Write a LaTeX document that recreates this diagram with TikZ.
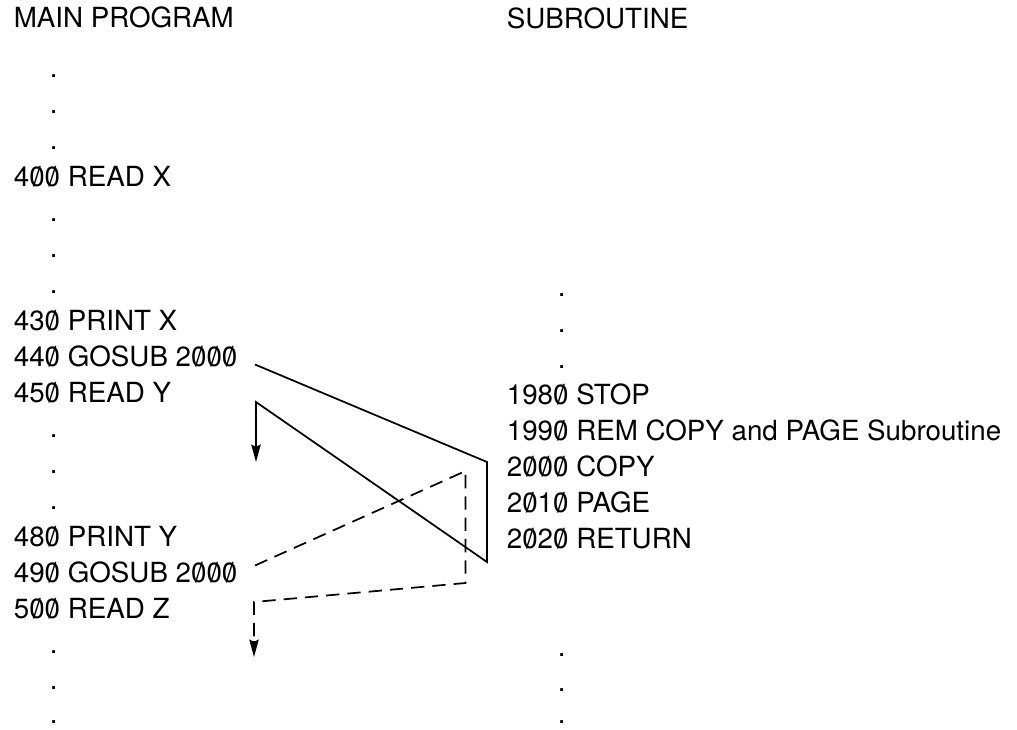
\documentclass[tikz,border=0pt]{standalone}
\usepackage{fontspec}
\setmainfont{TeX Gyre Heros}
\usetikzlibrary{arrows.meta}
\newcommand{\zro}{\ooalign{0\cr\hidewidth/\hidewidth\cr}}
\tikzset{every picture/.style={line width=1.3pt}}
\tikzset{code/.style={anchor=base west,inner sep=0.75pt,font=\fontsize{20.8}{24}\selectfont},
  jump/.style={-{Stealth[length=13pt,width=7pt,inset=1.5pt]}},
  back/.style={dash pattern=on 10pt off 6pt}}

\begin{document}
\begin{tikzpicture}[x=0.75pt,y=0.75pt,yscale=-1,xscale=1]
\useasboundingbox (0,0) rectangle (1017,729);
% Text Node
\draw (12,27) node (mainhd) [code] {MAIN PROGRAM};
% Text Node
\draw (505,28) node (subhd) [code] {SUBROUTINE};
% Text Node
\draw (48,77.5) node (ld1) [code] {.};
% Text Node
\draw (48,113.5) node (ld2) [code] {.};
% Text Node
\draw (48,149.5) node (ld3) [code] {.};
% Text Node
\draw (12,186) node (l400) [code] {4\zro\zro\ READ X};
% Text Node
\draw (48,221.5) node (ld4) [code] {.};
% Text Node
\draw (48,257.5) node (ld5) [code] {.};
% Text Node
\draw (48,293.5) node (ld6) [code] {.};
% Text Node
\draw (12,330) node (l430) [code] {43\zro\ PRINT X};
% Text Node
\draw (12,366) node (l440) [code] {44\zro\ GOSUB 2\zro\zro\zro};
% Text Node
\draw (12,402) node (l450) [code] {45\zro\ READ Y};
% Text Node
\draw (48,437.5) node (ld7) [code] {.};
% Text Node
\draw (48,473.5) node (ld8) [code] {.};
% Text Node
\draw (48,509.5) node (ld9) [code] {.};
% Text Node
\draw (12,546) node (l480) [code] {48\zro\ PRINT Y};
% Text Node
\draw (12,582) node (l490) [code] {49\zro\ GOSUB 2\zro\zro\zro};
% Text Node
\draw (12,618) node (l500) [code] {5\zro\zro\ READ Z};
% Text Node
\draw (48,653.5) node (ld10) [code] {.};
% Text Node
\draw (48,689) node (ld11) [code] {.};
% Text Node
\draw (48,723) node (ld12) [code] {.};
% Text Node
\draw (556,296.5) node (rd1) [code] {.};
% Text Node
\draw (556,332.5) node (rd2) [code] {.};
% Text Node
\draw (556,368.5) node (rd3) [code] {.};
% Text Node
\draw (505,404.5) node (r1980) [code] {198\zro\ STOP};
% Text Node
\draw (505,440.5) node (r1990) [code] {199\zro\ REM COPY and PAGE Subroutine};
% Text Node
\draw (505,476.5) node (r2000) [code] {2\zro\zro\zro\ COPY};
% Text Node
\draw (505,512.5) node (r2010) [code] {2\zro1\zro\ PAGE};
% Text Node
\draw (505,548.5) node (r2020) [code] {2\zro2\zro\ RETURN};
% Text Node
\draw (556,656.5) node (rd4) [code] {.};
% Text Node
\draw (556,691) node (rd5) [code] {.};
% Text Node
\draw (556,723) node (rd6) [code] {.};
% Corners of the jumps
\coordinate (callA) at (255,364.5);
\coordinate (inA) at (487,462);
\coordinate (outA) at (487,562);
\coordinate (retA) at (256,402);
\coordinate (tipA) at (256,462);
\coordinate (callB) at (255,565.5);
\coordinate (inB) at (465.5,471);
\coordinate (outB) at (465.5,583);
\coordinate (retB) at (254,602);
\coordinate (tipB) at (254,657);
%Straight Lines
\draw [jump] (callA) -- (inA) -- (outA) -- (retA) -- (tipA);
%Straight Lines
\draw [back] (callB) -- (inB) -- (outB) -- (retB) -- ([yshift=-10]tipB);
\draw [jump] ([yshift=-12]tipB) -- (tipB);
\end{tikzpicture}
\end{document}
